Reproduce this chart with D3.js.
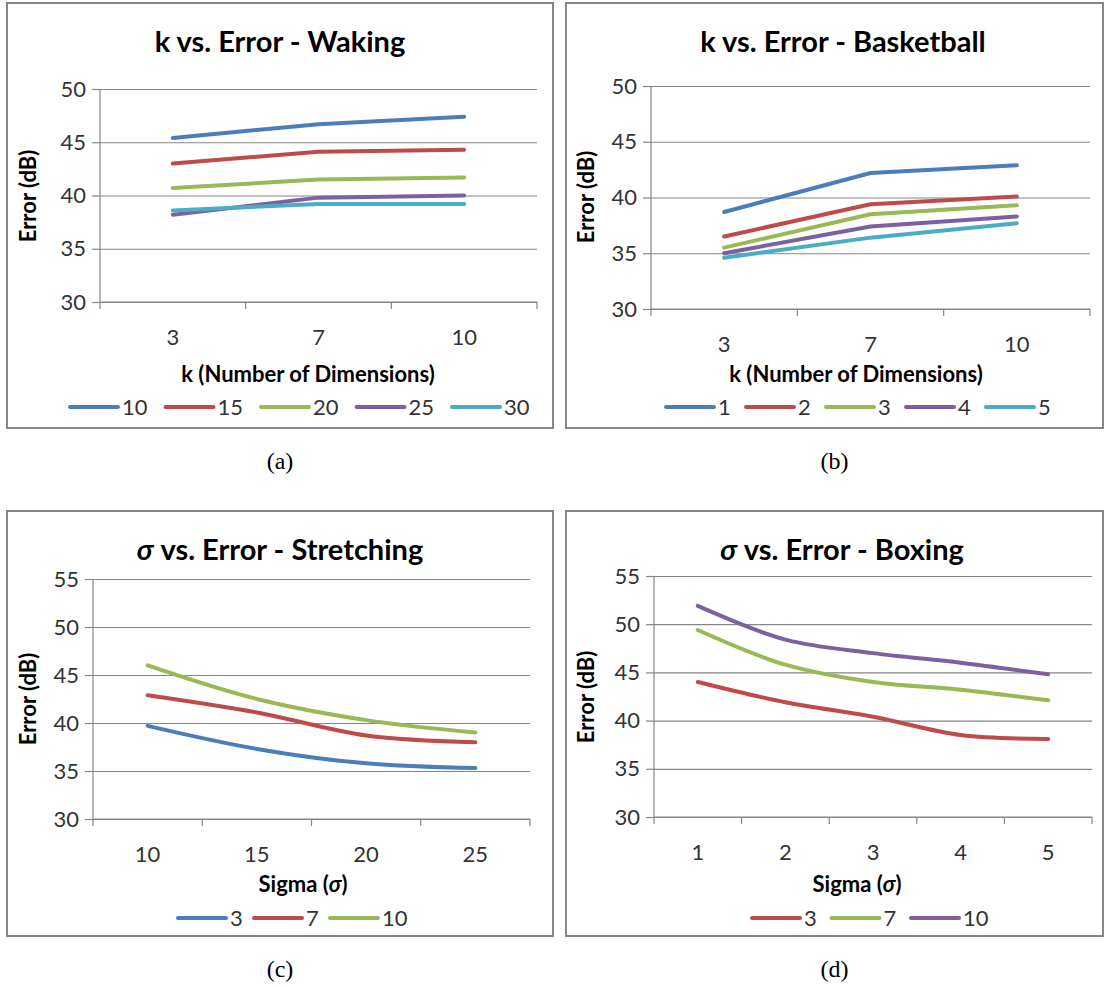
<!doctype html>
<html>
<head>
<meta charset="utf-8">
<title>Error charts</title>
<style>
  body { margin: 0; background: #fff; }
  text { font-family: Lato, "Open Sans", sans-serif; }
  text.caption { font-family: "Liberation Serif", "DejaVu Serif", serif; }
</style>
</head>
<body>
<svg id="chart" width="1105" height="988"></svg>
<script src="https://cdn.jsdelivr.net/npm/d3@7"></script>
<script>
// ---- data ----
const walkK = ["3", "7", "10"];
const walkSeries = ["10", "15", "20", "25", "30"];
const walkValues = [
  [45.4, 46.7, 47.4],
  [43.0, 44.1, 44.3],
  [40.7, 41.5, 41.7],
  [38.2, 39.8, 40.0],
  [38.6, 39.2, 39.2]
];

const basketK = ["3", "7", "10"];
const basketSeries = ["1", "2", "3", "4", "5"];
const basketValues = [
  [38.7, 42.2, 42.9],
  [36.5, 39.4, 40.1],
  [35.5, 38.5, 39.3],
  [35.0, 37.4, 38.3],
  [34.6, 36.4, 37.7]
];

const stretchSigma = ["10", "15", "20", "25"];
const stretchSeries = ["3", "7", "10"];
const stretchValues = [
  [39.7, 37.3, 35.8, 35.3],
  [42.9, 41.1, 38.7, 38.0],
  [46.0, 42.5, 40.3, 39.0]
];

const boxSigma = ["1", "2", "3", "4", "5"];
const boxSeries = ["3", "7", "10"];
const boxValues = [
  [44.0, 41.9, 40.4, 38.5, 38.1],
  [49.4, 45.8, 44.0, 43.2, 42.1],
  [51.9, 48.4, 47.0, 46.0, 44.8]
];

const kTicks = [30, 35, 40, 45, 50];
const sigmaTicks = [30, 35, 40, 45, 50, 55];

const blue = "#4a7ebb", red = "#be4b48", green = "#98b954", purple = "#7d60a0", teal = "#4bacc6";

const svg = d3.select("#chart");

const panels = [
  {
    title: ["", "k vs. Error - Waking"], cats: walkK, series: walkSeries, values: walkValues,
    colors: [blue, red, green, purple, teal], yTicks: kTicks, curve: d3.curveLinear,
    frame: [7, 3, 553, 428], plot: [100, 89, 537, 302], titleX: 280,
    xTitle: ["k (Number of Dimensions)"], xTitleX: 308, xTitleY: 382, yTitle: [28, 196],
    legendX: 70, legendY: 407, legendStep: 95.5, caption: "(a)"
  },
  {
    title: ["", "k vs. Error - Basketball"], cats: basketK, series: basketSeries, values: basketValues,
    colors: [blue, red, green, purple, teal], yTicks: kTicks, curve: d3.curveLinear,
    frame: [566, 3, 1103, 428], plot: [651, 86, 1090, 309], titleX: 843,
    xTitle: ["k (Number of Dimensions)"], xTitleX: 856, xTitleY: 382, yTitle: [586, 197],
    legendX: 666, legendY: 407, legendStep: 80, caption: "(b)"
  },
  {
    title: ["σ", " vs. Error - Stretching"], cats: stretchSigma, series: stretchSeries, values: stretchValues,
    colors: [blue, red, green], yTicks: sigmaTicks, curve: d3.curveCatmullRom,
    frame: [7, 511, 553, 936], plot: [93, 579, 530, 819], titleX: 280,
    xTitle: ["Sigma (", "σ", ")"], xTitleX: 303, xTitleY: 892, yTitle: [28, 699],
    legendX: 178, legendY: 918, legendStep: 76, caption: "(c)"
  },
  {
    title: ["σ", " vs. Error - Boxing"], cats: boxSigma, series: boxSeries, values: boxValues,
    colors: [red, green, purple], yTicks: sigmaTicks, curve: d3.curveCatmullRom,
    frame: [566, 511, 1103, 936], plot: [654, 576, 1092, 817], titleX: 842,
    xTitle: ["Sigma (", "σ", ")"], xTitleX: 857, xTitleY: 892, yTitle: [586, 697],
    legendX: 752, legendY: 918, legendStep: 79.5, caption: "(d)"
  }
];

panels.forEach(drawPanel);

function drawPanel(p) {
  const [fx0, fy0, fx1, fy1] = p.frame;
  const [left, top, right, bottom] = p.plot;
  const g = svg.append("g");

  g.append("rect")
    .attr("x", fx0).attr("y", fy0)
    .attr("width", fx1 - fx0).attr("height", fy1 - fy0)
    .attr("fill", "#fff").attr("stroke", "#868686").attr("stroke-width", 2);

  // title
  const t = g.append("text")
    .attr("x", p.titleX).attr("y", fy0 + 49)
    .attr("text-anchor", "middle")
    .attr("font-size", 29).attr("font-weight", "bold").attr("fill", "#000");
  if (p.title[0]) t.append("tspan").attr("font-style", "italic").text(p.title[0]);
  t.append("tspan").text(p.title[1]);

  const x = d3.scaleBand().domain(p.cats).range([left, right]).padding(0);
  const y = d3.scaleLinear().domain([30, d3.max(p.yTicks)]).range([bottom, top]);

  // grid lines
  g.append("g")
    .attr("transform", `translate(${left},0)`)
    .call(d3.axisLeft(y).tickValues(p.yTicks).tickSize(-(right - left)).tickFormat(""))
    .call(a => a.select(".domain").remove())
    .selectAll("line").attr("stroke", "#868686").attr("stroke-width", 1.2);

  // y axis
  const ya = g.append("g")
    .attr("transform", `translate(${left},0)`)
    .call(d3.axisLeft(y).tickValues(p.yTicks).tickSize(8).tickPadding(6));
  ya.select(".domain").attr("stroke", "#868686").attr("stroke-width", 1.2).attr("d", `M0,${top}V${bottom}`);
  ya.selectAll("line").attr("stroke", "#868686").attr("stroke-width", 1.2);
  ya.selectAll("text").attr("font-size", 22).attr("fill", "#333");

  // x axis: labels centred in bands, ticks on band boundaries
  const xa = g.append("g")
    .attr("transform", `translate(0,${bottom})`)
    .call(d3.axisBottom(x).tickSize(0).tickPadding(27));
  xa.select(".domain").remove();
  xa.selectAll("text").attr("font-size", 22).attr("fill", "#333");
  const bounds = d3.range(p.cats.length + 1).map(i => left + i * x.step());
  g.append("path")
    .attr("fill", "none").attr("stroke", "#868686").attr("stroke-width", 1.2)
    .attr("d", `M${left},${bottom}H${right}` + bounds.map(b => `M${b},${bottom}V${bottom + 7}`).join(""));

  // axis titles
  const xt = g.append("text")
    .attr("x", p.xTitleX).attr("y", p.xTitleY)
    .attr("text-anchor", "middle").attr("font-size", 22).attr("font-weight", "bold").attr("fill", "#000");
  p.xTitle.forEach(s => {
    const ts = xt.append("tspan").text(s);
    if (s === "σ") ts.attr("font-style", "italic");
  });

  g.append("text")
    .attr("transform", `translate(${p.yTitle[0]},${p.yTitle[1]}) rotate(-90)`)
    .attr("text-anchor", "middle").attr("dy", "0.35em")
    .attr("font-size", 22).attr("font-weight", "bold").attr("fill", "#000")
    .text("Error (dB)");

  // series lines
  const line = d3.line()
    .x((d, i) => x(p.cats[i]) + x.bandwidth() / 2)
    .y(d => y(d))
    .curve(p.curve);

  g.append("g")
    .selectAll("path")
    .data(p.values)
    .join("path")
    .attr("fill", "none")
    .attr("stroke", (d, i) => p.colors[i])
    .attr("stroke-width", 4)
    .attr("stroke-linecap", "round")
    .attr("stroke-linejoin", "round")
    .attr("d", line);

  // legend
  const item = g.append("g").selectAll("g")
    .data(p.series)
    .join("g")
    .attr("transform", (d, i) => `translate(${p.legendX + i * p.legendStep},${p.legendY})`);
  item.append("line")
    .attr("x1", 0).attr("x2", 48)
    .attr("stroke", (d, i) => p.colors[i]).attr("stroke-width", 4).attr("stroke-linecap", "round");
  item.append("text")
    .attr("x", 52).attr("dy", "0.36em")
    .attr("font-size", 22).attr("fill", "#333")
    .text(d => d);

  // caption
  svg.append("text")
    .attr("class", "caption")
    .attr("x", (fx0 + fx1) / 2).attr("y", fy1 + 41)
    .attr("text-anchor", "middle")
    .attr("font-size", 24).attr("fill", "#000")
    .text(p.caption);
}
</script>
</body>
</html>
